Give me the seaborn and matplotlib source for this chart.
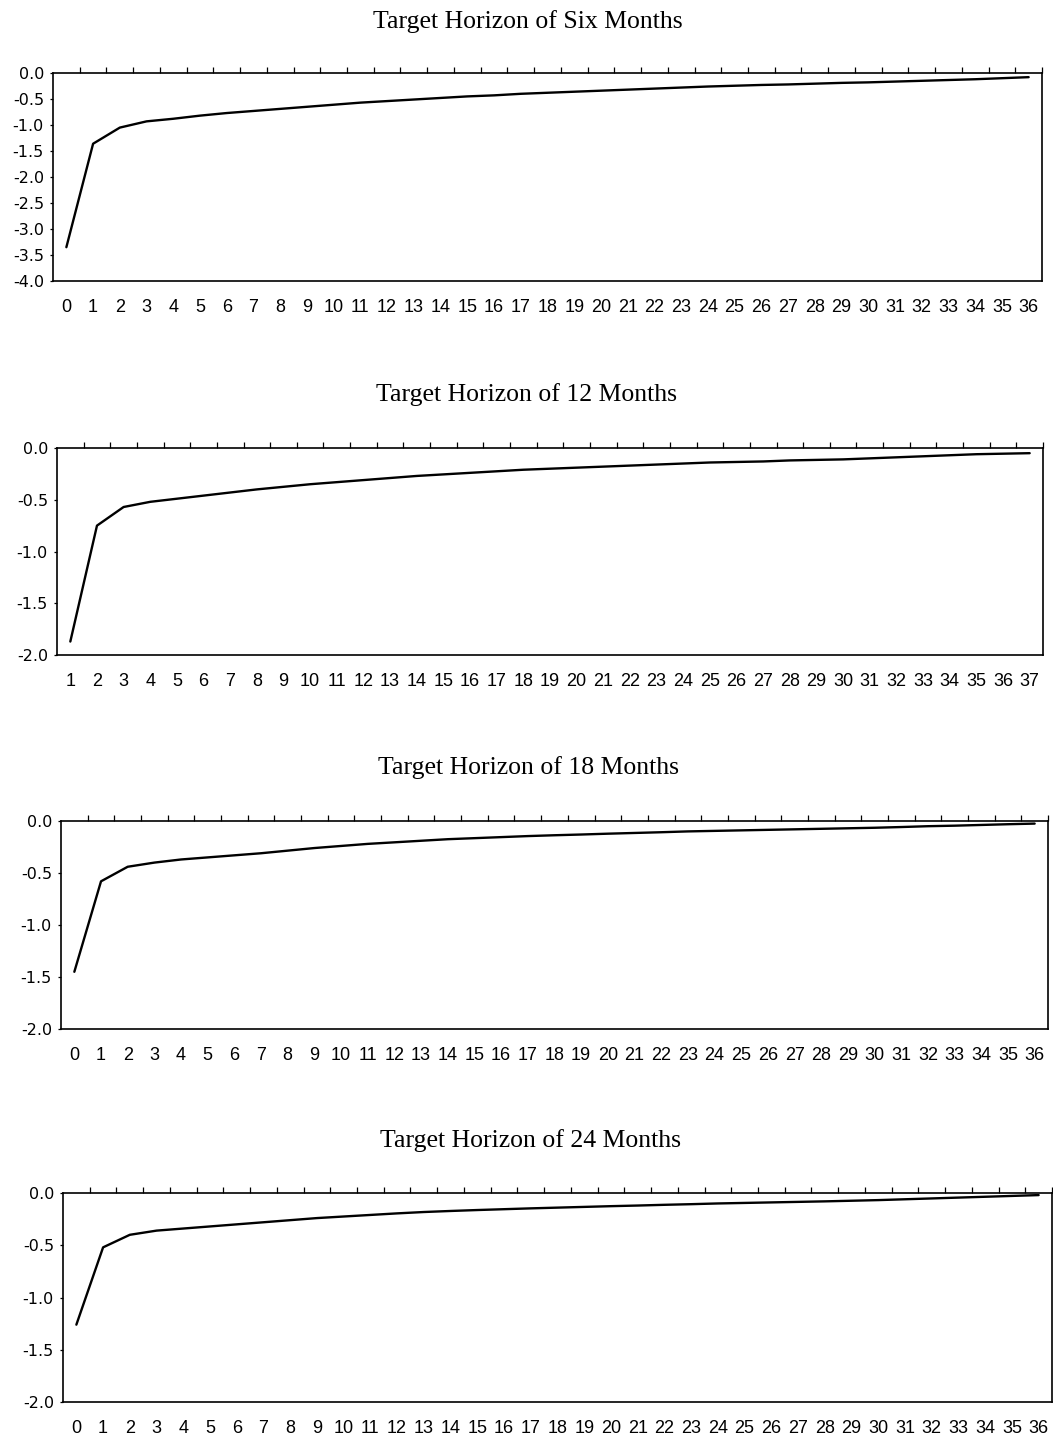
import numpy as np
import pandas as pd
import matplotlib
matplotlib.use("Agg")
import matplotlib.pyplot as plt
import seaborn as sns
from matplotlib.ticker import FixedLocator, FormatStrFormatter

# Panel titles
titles = [
    "Target Horizon of Six Months",
    "Target Horizon of 12 Months",
    "Target Horizon of 18 Months",
    "Target Horizon of 24 Months",
]

# Period labels on the category axis
periods_six = list(range(0, 37))
periods_12 = list(range(1, 38))
periods_18 = list(range(0, 37))
periods_24 = list(range(0, 37))

# Responses for each target horizon
resp_six = [-3.35, -1.36, -1.05, -0.93, -0.88, -0.82, -0.77, -0.73, -0.69, -0.65,
            -0.61, -0.57, -0.54, -0.51, -0.48, -0.45, -0.43, -0.40, -0.38, -0.36,
            -0.34, -0.32, -0.30, -0.28, -0.26, -0.245, -0.23, -0.22, -0.205, -0.19,
            -0.18, -0.165, -0.15, -0.135, -0.12, -0.10, -0.08]
resp_12 = [-1.87, -0.75, -0.57, -0.52, -0.49, -0.46, -0.43, -0.40, -0.375, -0.35,
           -0.33, -0.31, -0.29, -0.27, -0.255, -0.24, -0.225, -0.21, -0.20, -0.19,
           -0.18, -0.17, -0.16, -0.15, -0.14, -0.135, -0.13, -0.12, -0.115, -0.11,
           -0.10, -0.09, -0.08, -0.07, -0.06, -0.055, -0.05]
resp_18 = [-1.45, -0.58, -0.44, -0.40, -0.37, -0.35, -0.33, -0.31, -0.285, -0.26,
           -0.24, -0.22, -0.205, -0.19, -0.175, -0.165, -0.155, -0.145, -0.137, -0.13,
           -0.122, -0.115, -0.108, -0.10, -0.095, -0.09, -0.085, -0.08, -0.075, -0.07,
           -0.065, -0.058, -0.05, -0.045, -0.038, -0.031, -0.025]
resp_24 = [-1.26, -0.52, -0.40, -0.36, -0.34, -0.32, -0.30, -0.28, -0.26, -0.24,
           -0.225, -0.21, -0.195, -0.182, -0.172, -0.163, -0.155, -0.147, -0.14, -0.133,
           -0.126, -0.12, -0.113, -0.107, -0.10, -0.095, -0.09, -0.085, -0.08, -0.074,
           -0.068, -0.06, -0.052, -0.044, -0.036, -0.028, -0.02]

# Value-axis ranges
y_mins = [-4.0, -2.0, -2.0, -2.0]
y_steps = [0.5, 0.5, 0.5, 0.5]

sns.set_style("white")
plt.rcParams["axes.unicode_minus"] = False
plt.rcParams["font.family"] = ["Liberation Sans", "DejaVu Sans"]
plt.rcParams["text.color"] = "black"
plt.rcParams["xtick.color"] = "black"
plt.rcParams["ytick.color"] = "black"
plt.rcParams["xtick.labelcolor"] = "black"
plt.rcParams["ytick.labelcolor"] = "black"

W, H = 1053, 1443
fig = plt.figure(figsize=(W / 100, H / 100), dpi=100)

# Plot-area boxes in pixels: left, top, right, bottom
boxes = [(53, 73, 1042, 281), (57, 448, 1043, 655),
         (61, 821, 1048, 1029), (63, 1193, 1052, 1402)]
title_pos = [(528, 22), (527, 395), (529, 768), (531, 1141)]

series = [(periods_six, resp_six), (periods_12, resp_12),
          (periods_18, resp_18), (periods_24, resp_24)]

for i, ((periods, resp), box) in enumerate(zip(series, boxes)):
    l, t, r, b = box
    ax = fig.add_axes([l / W, 1 - b / H, (r - l) / W, (b - t) / H])
    df = pd.DataFrame({"pos": np.arange(len(periods)), "value": resp})
    sns.lineplot(data=df, x="pos", y="value", ax=ax, color="black", lw=1.7)

    n = len(periods)
    ax.set_xlim(-0.5, n - 0.5)
    ax.set_ylim(y_mins[i], 0.0)
    ax.set_xlabel("")
    ax.set_ylabel("")

    # Category labels at the centres, boundary ticks on the zero line
    ax.xaxis.set_major_locator(FixedLocator(np.arange(n)))
    ax.set_xticklabels([str(p) for p in periods], fontsize=13,
                       family=["Liberation Sans", "DejaVu Sans"], color="black")
    ax.xaxis.set_minor_locator(FixedLocator(np.arange(n) + 0.5))
    ax.tick_params(axis="x", which="major", bottom=True, top=False, length=0, pad=13)
    ax.tick_params(axis="x", which="minor", bottom=False, top=True,
                   direction="out", length=4, width=0.9, color="black")

    yt = np.arange(y_mins[i], 0.0 + 1e-9, y_steps[i])
    ax.set_yticks(yt)
    ax.yaxis.set_major_formatter(FormatStrFormatter("%.1f"))
    ax.tick_params(axis="y", which="major", left=True, direction="out",
                   length=2.5, width=0.9, pad=4, labelsize=11.5, color="black")
    for lab in ax.get_yticklabels():
        lab.set_family("DejaVu Sans")
        lab.set_color("black")

    for s in ax.spines.values():
        s.set_visible(True)
        s.set_color("black")
        s.set_linewidth(1.2)

    tx, ty = title_pos[i]
    fig.text(tx / W, 1 - ty / H, titles[i], ha="center", va="center",
             fontsize=18.5, color="black",
             family=["Liberation Serif", "DejaVu Serif"])

fig.savefig("out.png", dpi=100, facecolor="white")
